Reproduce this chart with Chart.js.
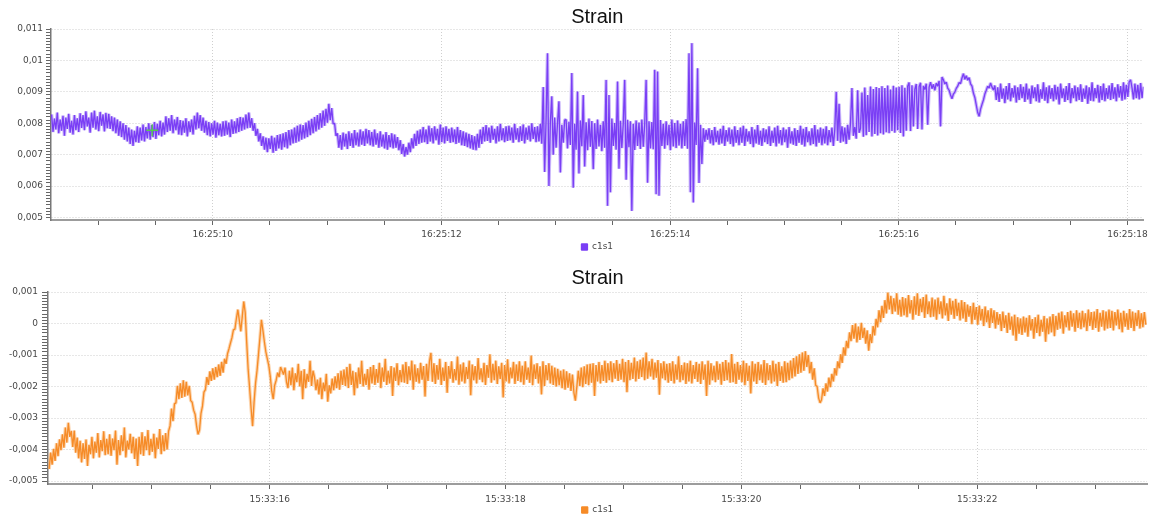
<!DOCTYPE html>
<html>
<head>
<meta charset="utf-8">
<title>Strain</title>
<script src="https://cdn.jsdelivr.net/npm/chart.js@4.4.1/dist/chart.umd.min.js"></script>
<style>
  html, body { margin: 0; padding: 0; background: #fff; }
  .panel { position: absolute; left: 0; width: 1151px; height: 258px; }
  #top-panel { top: 0; }
  #bottom-panel { top: 258px; }
</style>
</head>
<body>
<div class="panel" id="top-panel"><canvas id="strain-top"></canvas></div>
<div class="panel" id="bottom-panel"><canvas id="strain-bottom"></canvas></div>
<script>
// 채널 c1s1 변형률, 단위 1e-5 (800 = 0,008)
const sampleStep = 0.0125; // 초

// 위 그래프: 16:25:08.59 부터
const topStart = 8.59;
const topStrain = [
  828, 772, 815, 780, 834, 768, 812, 776, 824, 760, 818, 782, 830, 770, 808, 764, 826, 778, 816, 772,
  832, 785, 826, 778, 838, 790, 818, 770, 834, 786, 840, 780, 822, 775, 836, 792, 828, 774, 833, 784,
  830, 782, 822, 775, 818, 768, 812, 760, 806, 756, 800, 748, 794, 742, 786, 734, 780, 728, 776, 740,
  790, 738, 786, 745, 796, 742, 788, 752, 800, 748, 794, 756, 804, 750, 798, 762, 808, 758, 802, 764,
  822, 772, 816, 776, 826, 768, 812, 778, 820, 764, 810, 762, 808, 770, 816, 758, 806, 772, 812, 764,
  824, 780, 834, 784, 826, 776, 818, 770, 808, 762, 804, 758, 800, 764, 808, 754, 802, 762, 798, 758,
  806, 760, 808, 764, 802, 756, 812, 766, 806, 768, 816, 772, 820, 776, 818, 780, 828, 784, 834, 786,
  816, 776, 800, 760, 782, 742, 768, 728, 758, 716, 754, 708, 752, 718, 760, 706, 754, 712, 762, 720,
  765, 716, 768, 724, 772, 720, 778, 730, 780, 736, 786, 738, 792, 742, 796, 748, 794, 752, 802, 756,
  808, 762, 814, 768, 820, 774, 826, 780, 832, 786, 840, 792, 846, 802, 862, 810, 848, 798, 800, 760,
  768, 722, 762, 716, 770, 726, 766, 718, 774, 728, 768, 722, 778, 730, 770, 726, 780, 732, 774, 728,
  782, 736, 778, 730, 772, 726, 780, 732, 768, 722, 774, 726, 764, 720, 772, 716, 762, 724, 768, 720,
  764, 722, 756, 714, 746, 702, 734, 694, 724, 700, 738, 708, 752, 720, 766, 728, 776, 734, 780, 738,
  788, 740, 780, 734, 792, 742, 784, 736, 790, 746, 782, 732, 796, 740, 786, 736, 790, 744, 782, 738,
  786, 740, 780, 734, 788, 738, 778, 730, 774, 728, 770, 724, 766, 720, 762, 716, 758, 714, 766, 722,
  780, 734, 788, 742, 794, 744, 786, 738, 792, 748, 782, 736, 790, 742, 798, 746, 784, 740, 790, 744,
  792, 746, 786, 738, 798, 748, 784, 740, 790, 744, 796, 736, 786, 748, 792, 742, 800, 750, 788, 740,
  790, 742, 798, 735, 915, 645, 812, 1023, 600, 806, 886, 700, 818, 722, 801, 870, 643, 795, 738, 810,
  812, 720, 805, 731, 960, 595, 798, 716, 901, 640, 809, 727, 890, 662, 803, 714, 815, 725, 807, 654,
  800, 718, 812, 726, 795, 711, 806, 722, 938, 537, 890, 580, 815, 728, 801, 716, 933, 655, 808, 721,
  799, 938, 620, 811, 724, 806, 521, 798, 715, 809, 728, 802, 718, 812, 725, 797, 938, 611, 806, 720,
  804, 717, 970, 574, 965, 569, 810, 728, 798, 719, 806, 730, 795, 714, 812, 726, 801, 721, 809, 729,
  798, 720, 806, 728, 813, 719, 1023, 580, 1055, 548, 802, 731, 975, 610, 795, 670, 784, 741, 779, 748,
  784, 736, 778, 730, 788, 740, 776, 732, 782, 736, 792, 728, 778, 742, 786, 734, 780, 726, 790, 738,
  778, 730, 786, 738, 792, 728, 782, 742, 774, 734, 788, 724, 780, 736, 794, 732, 776, 728, 784, 740,
  780, 734, 790, 728, 776, 738, 786, 726, 792, 736, 778, 730, 786, 740, 780, 722, 788, 736, 774, 732,
  784, 728, 778, 738, 792, 732, 782, 726, 788, 740, 774, 730, 784, 734, 794, 726, 780, 738, 786, 730,
  782, 736, 790, 730, 778, 740, 786, 728, 780, 900, 744, 862, 738, 790, 742, 786, 734, 795, 748, 800,
  912, 760, 788, 751, 905, 770, 783, 898, 757, 914, 762, 890, 772, 917, 758, 909, 766, 915, 761, 912,
  768, 918, 764, 912, 771, 920, 768, 907, 775, 919, 770, 914, 778, 916, 769, 921, 758, 913, 776, 918,
  930, 775, 921, 790, 908, 925, 782, 916, 929, 780, 919, 907, 926, 795, 915, 931, 910, 924, 905, 928,
  918, 935, 790, 947, 938, 925, 931, 912, 905, 890, 878, 893, 899, 911, 918, 930, 926, 944, 958, 940,
  951, 937, 945, 925, 918, 896, 882, 858, 834, 822, 845, 860, 874, 893, 905, 918, 912, 928, 915, 906,
  920, 874, 914, 868, 926, 878, 910, 864, 918, 876, 928, 870, 912, 882, 920, 866, 914, 874, 924, 880,
  916, 868, 926, 876, 910, 862, 920, 880, 914, 870, 924, 866, 908, 878, 930, 872, 914, 864, 920, 878,
  912, 870, 922, 876, 916, 860, 926, 880, 910, 868, 918, 874, 928, 864, 912, 880, 920, 870, 914, 874,
  924, 868, 910, 878, 920, 862, 914, 872, 930, 870, 912, 880, 922, 866, 918, 874, 926, 870, 912, 878,
  920, 874, 928, 878, 914, 870, 924, 882, 918, 872, 930, 876, 922, 884, 932, 938, 912, 876, 926, 880,
  922, 876, 928, 880, 916
];

// 아래 그래프: 15:33:14.13 부터
const bottomStart = 14.13;
const bottomStrain = [
  -462, -410, -448, -398, -436, -380, -421, -368, -402, -352, -394, -330, -378, -315, -360, -341, -392, -340, -410, -362,
  -428, -372, -441, -380, -430, -368, -452, -385, -415, -360, -428, -375, -410, -348, -425, -370, -405, -342, -418, -366,
  -415, -352, -420, -365, -402, -340, -448, -370, -418, -355, -405, -330, -425, -372, -400, -350, -412, -360, -430, -365,
  -452, -360, -415, -345, -420, -358, -402, -338, -418, -366, -407, -350, -428, -362, -398, -335, -415, -355, -405, -348,
  -400, -342, -325, -270, -310, -255, -252, -198, -240, -190, -236, -180, -232, -185, -228, -198, -245, -250, -275, -288,
  -325, -352, -338, -285, -262, -218, -210, -170, -195, -152, -182, -142, -178, -138, -170, -130, -166, -122, -156, -112,
  -128, -96, -80, -62, -45, -20, -18, 15, 44, 10, -25, 22, 70, 35, -60, -146, -205, -270, -326, -250,
  -190, -150, -98, -45, 12, -22, -58, -90, -112, -134, -168, -215, -240, -196, -180, -156, -170, -138, -150, -162,
  -140, -185, -205, -150, -196, -140, -212, -158, -186, -128, -200, -150, -240, -145, -205, -160, -185, -118, -198, -150,
  -170, -212, -178, -225, -172, -240, -188, -215, -160, -248, -196, -222, -175, -212, -168, -205, -158, -210, -150, -195,
  -146, -198, -138, -205, -128, -195, -150, -228, -155, -205, -140, -192, -118, -200, -160, -195, -145, -210, -138, -190,
  -132, -195, -145, -188, -125, -205, -140, -185, -112, -195, -150, -190, -135, -230, -140, -182, -126, -196, -148, -186,
  -130, -188, -122, -192, -136, -180, -118, -210, -130, -185, -142, -190, -125, -178, -135, -232, -128, -182, -120, -93,
  -185, -126, -192, -132, -178, -112, -195, -140, -182, -122, -220, -135, -175, -120, -188, -145, -180, -105, -194, -130,
  -184, -124, -190, -138, -176, -118, -228, -130, -180, -135, -190, -110, -178, -142, -186, -125, -195, -132, -172, -98,
  -188, -128, -180, -118, -192, -136, -176, -125, -235, -132, -184, -114, -190, -140, -174, -122, -192, -130, -182, -120,
  -186, -134, -194, -120, -178, -140, -188, -102, -196, -130, -176, -126, -190, -136, -225, -120, -198, -132, -180, -126,
  -190, -134, -195, -140, -200, -144, -196, -150, -205, -146, -210, -152, -204, -158, -214, -162, -220, -245, -200, -150,
  -198, -140, -202, -136, -192, -130, -196, -128, -188, -126, -230, -132, -184, -122, -190, -132, -182, -118, -188, -126,
  -180, -120, -186, -126, -175, -116, -182, -128, -178, -112, -186, -122, -218, -116, -180, -125, -176, -108, -184, -120,
  -176, -115, -170, -108, -180, -92, -175, -120, -168, -112, -178, -124, -172, -116, -226, -126, -174, -120, -180, -128,
  -188, -126, -182, -120, -190, -130, -178, -104, -186, -132, -180, -124, -192, -126, -184, -118, -190, -132, -176, -122,
  -185, -128, -192, -120, -178, -130, -230, -118, -194, -126, -180, -134, -186, -120, -178, -128, -194, -122, -182, -116,
  -180, -124, -188, -97, -186, -128, -192, -122, -178, -132, -186, -118, -196, -126, -182, -134, -222, -120, -184, -128,
  -192, -122, -180, -130, -188, -116, -195, -126, -180, -132, -190, -118, -184, -128, -198, -122, -182, -136, -188, -120,
  -186, -125, -180, -118, -174, -110, -168, -104, -160, -98, -156, -92, -150, -88, -138, -100, -158, -122, -178, -142,
  -196, -200, -236, -252, -242, -206, -230, -190, -216, -172, -202, -160, -184, -142, -165, -120, -142, -98, -125, -76,
  -102, -55, -78, -28, -56, -5, -48, 0, -60, -10, -52, 2, -46, -14, -64, -22, -86, -34, -62, -8,
  -38, 15, -12, 42, 4, 56, 18, 74, 32, 98, 45, 88, 30, 80, 38, 96, 28, 75, 22, 84,
  26, 80, 20, 90, 32, 74, 12, 86, 28, 96, 24, 78, 36, 84, 18, 92, 30, 70, 20, 82,
  22, 76, 12, 82, 30, 70, 16, 88, 26, 64, 8, 80, 28, 72, 15, 78, 24, 66, 10, 74,
  16, 68, 5, 60, 22, 55, -2, 66, 12, 52, -4, 57, 10, 46, -8, 54, 4, 42, -14, 48,
  2, 42, -16, 36, -4, 30, -24, 38, -14, 26, -30, 34, -20, 22, -38, 28, -55, 20, -32, 16,
  -36, 22, -28, 18, -42, 26, -22, 14, -48, 20, -30, 28, -40, 12, -26, 24, -58, 16, -34, 22,
  -28, 30, -40, 24, -20, 34, -16, 38, -32, 26, -12, 36, -22, 40, -10, 32, -26, 42, -14, 34,
  -18, 40, -12, 32, -24, 44, -8, 36, -20, 38, -14, 46, -26, 34, -10, 42, -22, 38, -16, 44,
  -14, 40, -22, 36, -6, 44, -18, 34, -28, 40, -10, 32, -20, 46, -14, 38, -24, 34, -8, 42,
  -16, 32, -12, 36, -4
];

// 눈금 라벨
const topTickSeconds = [10, 12, 14, 16, 18];
const topTickLabels = ["16:25:10", "16:25:12", "16:25:14", "16:25:16", "16:25:18"];
const bottomTickSeconds = [16, 18, 20, 22];
const bottomTickLabels = ["15:33:16", "15:33:18", "15:33:20", "15:33:22"];
const topStrainTicks = [500, 600, 700, 800, 900, 1000, 1100];
const bottomStrainTicks = [-500, -400, -300, -200, -100, 0, 100];

// 마우스 커서 표시 (위 그래프)
const cursorTime = 9.47;
const cursorStrain = 778;

const tickFont = { family: "'DejaVu Sans', Verdana, sans-serif", size: 9 };
const labelColor = "#474747";
const gridColor = "#cfcfcf";

// 1e-5 단위 -> "0,011" 형식
function strainLabel(v) {
  if (v === 0) return "0";
  return String(+(v / 1e5).toFixed(6)).replace(".", ",");
}

function makeStrainChart(canvasId, p) {
  const points = p.values.map((v, i) => ({ x: p.start + i * sampleStep, y: v }));
  const datasets = [
    {
      label: "c1s1",
      data: points,
      borderColor: p.color,
      backgroundColor: p.color,
      borderWidth: 1.3,
      borderJoinStyle: "bevel",
      pointRadius: 0,
      tension: 0,
      fill: false,
      order: 0,
    },
    {
      // 옅은 번짐 (같은 데이터)
      label: "halo",
      data: points,
      borderColor: p.halo,
      borderWidth: 3.4,
      borderJoinStyle: "bevel",
      pointRadius: 0,
      tension: 0,
      fill: false,
      order: 2,
    },
  ];
  if (p.cursor) {
    datasets.push({
      label: "cursor",
      data: [p.cursor],
      showLine: false,
      pointStyle: "cross",
      pointRadius: 6,
      borderColor: "#56c656",
      borderWidth: 1.5,
      order: -1,
    });
  }

  return new Chart(document.getElementById(canvasId), {
    type: "line",
    data: { datasets },
    options: {
      responsive: true,
      maintainAspectRatio: false,
      animation: false,
      events: [],
      layout: { padding: { left: 0, right: p.padRight, top: 0, bottom: 0 } },
      plugins: {
        title: {
          display: true,
          text: "Strain",
          fullSize: false,
          color: "#111",
          font: { family: "'Liberation Sans', Arial, sans-serif", size: 20, weight: "normal", lineHeight: 1.2 },
          padding: p.titlePad,
        },
        legend: {
          position: "bottom",
          fullSize: false,
          maxHeight: p.legendHeight,
          labels: {
            boxWidth: 6,
            boxHeight: 6,
            padding: p.legendPad,
            color: labelColor,
            font: tickFont,
            filter: (item) => item.datasetIndex === 0,
          },
        },
        tooltip: { enabled: false },
      },
      scales: {
        x: {
          type: "linear",
          min: p.xMin,
          max: p.xMax,
          afterBuildTicks: (s) => {
            // 0.5초 간격 눈금
            const ticks = [];
            for (let k = Math.ceil(p.xMin * 2); k <= Math.floor(p.xMax * 2); k++) ticks.push({ value: k / 2 });
            s.ticks = ticks;
          },
          afterFit: (s) => {
            s.height = p.xAxisHeight;
            s.paddingLeft = 0;
            s.paddingRight = 0;
          },
          ticks: {
            autoSkip: false,
            maxRotation: 0,
            padding: p.xTickPad,
            color: labelColor,
            font: tickFont,
            callback: (v) => {
              const k = p.tickSeconds.indexOf(v);
              return k >= 0 ? p.tickLabels[k] : "";
            },
          },
          grid: {
            color: (ctx) => (ctx.tick && p.tickSeconds.includes(ctx.tick.value) ? gridColor : "transparent"),
            lineWidth: 1,
            tickLength: 5,
            tickColor: "#666",
            tickWidth: 1,
          },
          border: { color: "#9c9c9c", width: 2, dash: [1, 2] },
        },
        y: {
          min: p.yMin,
          max: p.yMax,
          afterBuildTicks: (s) => {
            // 0.0001 간격 작은 눈금
            const ticks = [];
            for (let k = Math.ceil(p.yMin / 10); k <= Math.floor(p.yMax / 10); k++) ticks.push({ value: k * 10 });
            s.ticks = ticks;
          },
          afterFit: (s) => {
            s.width = p.yAxisWidth;
            s.paddingTop = 0;
            s.paddingBottom = 0;
          },
          ticks: {
            autoSkip: false,
            padding: p.yTickPad,
            color: labelColor,
            font: tickFont,
            callback: (v) => (p.strainTicks.includes(v) ? strainLabel(v) : ""),
          },
          grid: {
            color: (ctx) => (ctx.tick && p.strainTicks.includes(ctx.tick.value) ? gridColor : "transparent"),
            lineWidth: 1,
            tickLength: p.yTickLength,
            tickColor: "#666",
            tickWidth: 1,
          },
          border: { color: "#777", width: 1.5, dash: [1, 2] },
        },
      },
    },
  });
}

makeStrainChart("strain-top", {
  start: topStart,
  values: topStrain,
  color: "#7a3ef5",
  halo: "rgba(150, 112, 248, 0.5)",
  cursor: { x: cursorTime, y: cursorStrain },
  xMin: 8.585,
  xMax: 18.14,
  yMin: 492,
  yMax: 1100,
  tickSeconds: topTickSeconds,
  tickLabels: topTickLabels,
  strainTicks: topStrainTicks,
  padRight: 6,
  yAxisWidth: 51,
  yTickLength: 5,
  yTickPad: 3,
  xAxisHeight: 20.5,
  xTickPad: 4,
  legendHeight: 17.5,
  legendPad: 2,
  titlePad: { top: 5, bottom: 0 },
});

makeStrainChart("strain-bottom", {
  start: bottomStart,
  values: bottomStrain,
  color: "#f68b27",
  halo: "rgba(249, 172, 96, 0.5)",
  cursor: null,
  xMin: 14.12,
  xMax: 23.44,
  yMin: -509.5,
  yMax: 100,
  tickSeconds: bottomTickSeconds,
  tickLabels: bottomTickLabels,
  strainTicks: bottomStrainTicks,
  padRight: 4,
  yAxisWidth: 48,
  yTickLength: 6,
  yTickPad: 4,
  xAxisHeight: 20.5,
  xTickPad: 5,
  legendHeight: 11.5,
  legendPad: 1,
  titlePad: { top: 8, bottom: 2 },
});
</script>
</body>
</html>
